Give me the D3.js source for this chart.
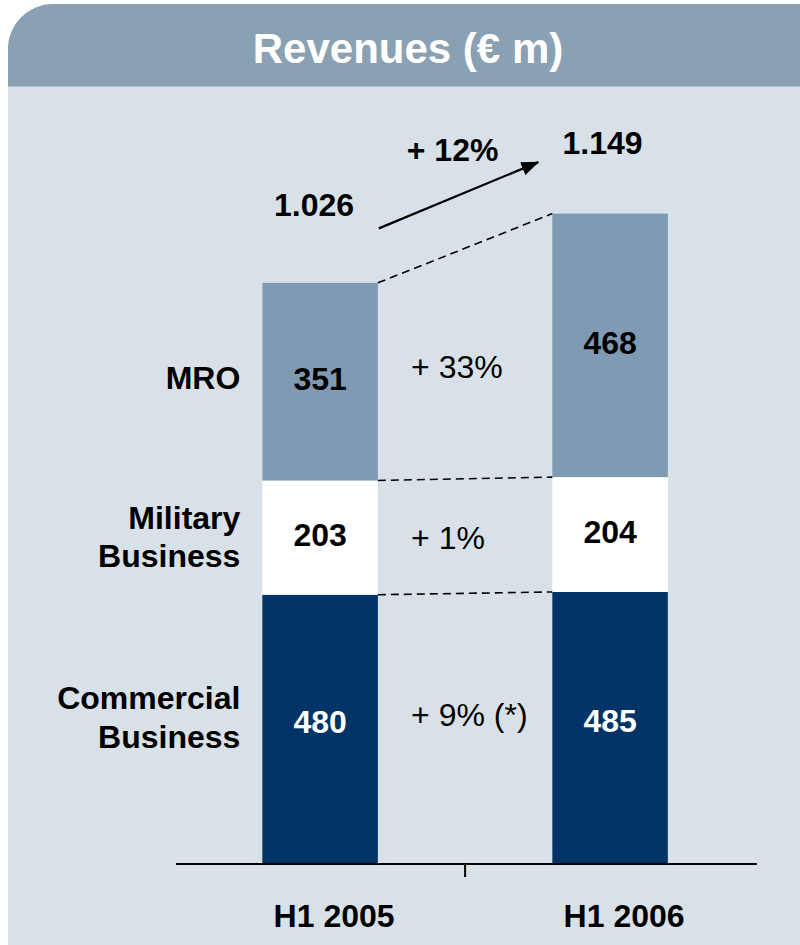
<!DOCTYPE html>
<html>
<head>
<meta charset="utf-8">
<script src="https://cdn.jsdelivr.net/npm/d3@7"></script>
<style>
  html, body { margin: 0; padding: 0; background: #ffffff; }
  svg { display: block; }
  text { font-family: "Liberation Sans", Arial, Helvetica, sans-serif; }
</style>
</head>
<body>
<svg id="chart" width="800" height="945"></svg>
<script>
// Revenues by business segment, half-year comparison (€ m)
const periods = ["H1 2005", "H1 2006"];
const segments = ["Commercial Business", "Military Business", "MRO"];
const segmentLines = [["Commercial", "Business"], ["Military", "Business"], ["MRO"]];
const commercial = [480, 485];
const military = [203, 204];
const mro = [351, 468];
const totals = [1026, 1149];
const segmentGrowth = ["+ 9% (*)", "+ 1%", "+ 33%"];
const totalGrowth = "+ 12%";
const title = "Revenues (€ m)";

const colors = ["#003366", "#ffffff", "#7f9ab3"];
const valueColors = ["#ffffff", "#000000", "#000000"];

const svg = d3.select("#chart");
const W = 800, H = 945;

// panel: header tab with rounded top-left corner, light body below
const panelX = 8, headTop = 4, headBottom = 86, r = 45;
svg.append("rect").attr("x", panelX).attr("y", headBottom)
  .attr("width", W - panelX).attr("height", H - headBottom).attr("fill", "#d9e1e8");
svg.append("path")
  .attr("d", `M${panelX},${headBottom} L${panelX},${headTop + r} A${r},${r} 0 0 1 ${panelX + r},${headTop} L${W},${headTop} L${W},${headBottom} Z`)
  .attr("fill", "#8aa1b4");
svg.append("line").attr("x1", panelX).attr("x2", W).attr("y1", headBottom + 0.5).attr("y2", headBottom + 0.5)
  .attr("stroke", "#b3c2cf").attr("stroke-width", 1);
svg.append("text").attr("x", 408).attr("y", 63).attr("text-anchor", "middle")
  .attr("font-size", 42).attr("font-weight", "bold").attr("fill", "#ffffff").text(title);

// scales
const x = d3.scaleBand().domain(periods).range([176, 757])
  .paddingInner(0.6017).paddingOuter(0.3026).align(0.492);
const bw = x.bandwidth();
const y = d3.scaleLinear().domain([0, 1200]).range([865, 865 - 1200 * 0.563]);

const rows = periods.map((p, i) => ({
  period: p,
  [segments[0]]: commercial[i],
  [segments[1]]: military[i],
  [segments[2]]: mro[i]
}));
const stacked = d3.stack().keys(segments)(rows);

const fontSize = 32;
const capHalf = fontSize * 0.716 / 2;
const valueNudge = [-8, -3, -3];
const growthNudge = [-15, 1, 3];
const nameNudge = [-13, -1, -4];

// stacked bars
const layers = svg.append("g").selectAll("g").data(stacked).join("g")
  .attr("fill", (d, i) => colors[i]);
layers.selectAll("rect").data(d => d).join("rect")
  .attr("x", d => x(d.data.period))
  .attr("width", bw)
  .attr("y", d => y(d[1]))
  .attr("height", d => y(d[0]) - y(d[1]));

// dashed connectors between segment tops
const p0 = periods[0], p1 = periods[1];
svg.append("g").selectAll("line").data(stacked).join("line")
  .attr("x1", x(p0) + bw).attr("x2", x(p1))
  .attr("y1", d => y(d[0][1])).attr("y2", d => y(d[1][1]))
  .attr("stroke", "#000").attr("stroke-width", 1.6).attr("stroke-dasharray", "8,5");

// segment value labels
stacked.forEach((layer, li) => {
  svg.append("g").selectAll("text").data(layer).join("text")
    .attr("x", d => x(d.data.period) + bw / 2)
    .attr("y", d => (y(d[0]) + y(d[1])) / 2 + capHalf + valueNudge[li])
    .attr("text-anchor", "middle").attr("font-size", fontSize).attr("font-weight", "bold")
    .attr("fill", valueColors[li])
    .text(d => d[1] - d[0]);
});

// growth labels between the bars
const gapLeft = x(p0) + bw, gapRight = x(p1);
stacked.forEach((layer, li) => {
  const midA = (y(layer[0][0]) + y(layer[0][1])) / 2;
  const midB = (y(layer[1][0]) + y(layer[1][1])) / 2;
  svg.append("text")
    .attr("x", (gapLeft + gapRight) / 2 - 54)
    .attr("y", (midA + midB) / 2 + capHalf + growthNudge[li])
    .attr("font-size", fontSize).attr("fill", "#000")
    .text(segmentGrowth[li]);
});

// segment names on the left
stacked.forEach((layer, li) => {
  const mid = (y(layer[0][0]) + y(layer[0][1])) / 2 + nameNudge[li];
  const lines = segmentLines[li];
  const lh = 38.5;
  const t = svg.append("text").attr("text-anchor", "end")
    .attr("font-size", fontSize).attr("font-weight", "bold").attr("fill", "#000");
  lines.forEach((ln, k) => {
    t.append("tspan").attr("x", x(p0) - 22)
      .attr("y", mid + capHalf + (k - (lines.length - 1) / 2) * lh)
      .text(ln);
  });
});

// totals
const fmt = d3.formatLocale({ decimal: ",", thousands: ".", grouping: [3], currency: ["", " €"] }).format(",d");
const totalOffset = [-71, -64];
const totalShift = [-6, -7.5];
svg.append("g").selectAll("text").data(totals).join("text")
  .attr("x", (d, i) => x(periods[i]) + bw / 2 + totalShift[i])
  .attr("y", (d, i) => y(d) + totalOffset[i])
  .attr("text-anchor", "middle").attr("font-size", fontSize).attr("font-weight", "bold").attr("fill", "#000")
  .text(d => fmt(d));

// growth arrow between totals
const defs = svg.append("defs");
defs.append("marker").attr("id", "arrowHead")
  .attr("viewBox", "0 0 18 14").attr("refX", 17).attr("refY", 7)
  .attr("markerWidth", 18).attr("markerHeight", 14)
  .attr("markerUnits", "userSpaceOnUse").attr("orient", "auto")
  .append("path").attr("d", "M0,0 L18,7 L0,14 Z").attr("fill", "#000");
const ax1 = gapLeft + 1, ay1 = y(totals[0]) - 59;
const ax2 = gapRight - 14, ay2 = y(totals[1]) - 56;
svg.append("line").attr("x1", ax1).attr("y1", ay1).attr("x2", ax2).attr("y2", ay2)
  .attr("stroke", "#000").attr("stroke-width", 2.2).attr("marker-end", "url(#arrowHead)");
svg.append("text")
  .attr("x", (ax1 + ax2) / 2 - 6).attr("y", (ay1 + ay2) / 2 - 34)
  .attr("text-anchor", "middle").attr("font-size", fontSize).attr("font-weight", "bold").attr("fill", "#000")
  .text(totalGrowth);

// category axis
const axisY = y(0) - 1;
const axis = svg.append("g").attr("transform", `translate(0,${axisY})`);
axis.call(d3.axisBottom(x).tickSize(0).tickFormat(""));
axis.select(".domain").attr("stroke", "#000").attr("stroke-width", 2)
  .attr("d", `M${x.range()[0]},0H${x.range()[1]}`);
const midTick = (gapLeft + gapRight) / 2;
axis.append("line").attr("x1", midTick).attr("x2", midTick).attr("y1", 0).attr("y2", 13)
  .attr("stroke", "#000").attr("stroke-width", 2);
svg.append("g").selectAll("text").data(periods).join("text")
  .attr("x", d => x(d) + bw / 2 + 14)
  .attr("y", 927)
  .attr("text-anchor", "middle").attr("font-size", fontSize).attr("font-weight", "bold").attr("fill", "#000")
  .text(d => d);
</script>
</body>
</html>
